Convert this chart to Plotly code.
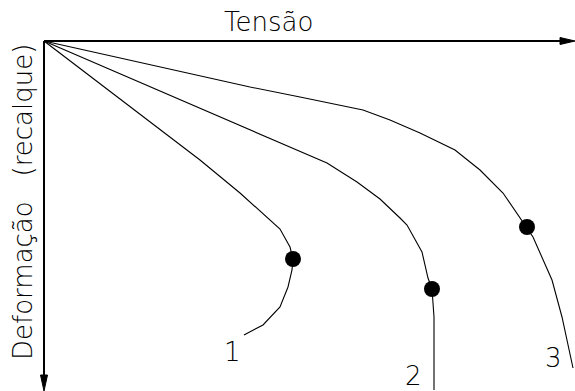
import plotly.graph_objects as go

# curves: tension (x) vs deformation (y), origin at axis corner
tensao_1 = [0, 156, 196, 226, 236, 246, 249, 248, 244, 236, 219, 200]
recalque_1 = [0, 119, 152, 179, 188, 206, 218, 229, 246, 266, 284, 294]

tensao_2 = [0, 253, 283, 313, 336, 356, 363, 378, 384, 388, 389, 390, 390]
recalque_2 = [0, 109, 122, 141, 158, 177, 184, 211, 237, 248, 259, 276, 349]

tensao_3 = [0, 206, 256, 319, 346, 376, 411, 436, 459, 474, 483, 489, 508, 518, 529]
recalque_3 = [0, 46, 56, 69, 79, 92, 109, 129, 152, 174, 186, 196, 239, 276, 327]

# rupture points (dots)
ruptura_x = [249, 388, 483]
ruptura_y = [218, 248, 186]

# curve labels
rotulos = ["1", "2", "3"]
rotulo_x = [188, 369, 509]
rotulo_y = [311, 335, 317]

FONT = dict(family="DejaVu Sans", size=26, color="black", weight=200)

fig = go.Figure()
for xs, ys in [(tensao_1, recalque_1), (tensao_2, recalque_2), (tensao_3, recalque_3)]:
    fig.add_trace(go.Scatter(x=xs, y=ys, mode="lines",
                             line=dict(color="black", width=1.1),
                             showlegend=False, hoverinfo="skip"))

fig.add_trace(go.Scatter(x=ruptura_x, y=ruptura_y, mode="markers",
                         marker=dict(size=16, color="black"),
                         showlegend=False, hoverinfo="skip"))

for txt, x, y in zip(rotulos, rotulo_x, rotulo_y):
    fig.add_annotation(x=x, y=y, text=txt, showarrow=False, font=FONT)

# axes with arrows
fig.add_shape(type="line", x0=0, y0=0, x1=518, y1=0, line=dict(color="black", width=2))
fig.add_shape(type="path", path="M 516 -3.5 L 531 0 L 516 3.5 Z",
              fillcolor="black", line=dict(color="black", width=1))
fig.add_shape(type="line", x0=0, y0=0, x1=0, y1=336, line=dict(color="black", width=2))
fig.add_shape(type="path", path="M -3.5 334 L 0 350 L 3.5 334 Z",
              fillcolor="black", line=dict(color="black", width=1))

fig.add_annotation(x=224, y=-19, text="Tensão", showarrow=False, font=FONT)
fig.add_annotation(x=-21, y=161, text="Deformação&nbsp;&nbsp;&nbsp;(recalque)",
                   showarrow=False, textangle=-90, font=FONT)

fig.update_layout(
    width=575, height=391,
    margin=dict(l=0, r=0, t=0, b=0, autoexpand=False),
    paper_bgcolor="white", plot_bgcolor="white",
    xaxis=dict(range=[-44, 531], visible=False, fixedrange=True),
    yaxis=dict(range=[350, -41], visible=False, fixedrange=True),
)
# page body has a default 8px margin; drop it so the figure fills the window
fig.write_html("out.html", config={"displayModeBar": False},
               post_script="document.body.style.margin='0';")
